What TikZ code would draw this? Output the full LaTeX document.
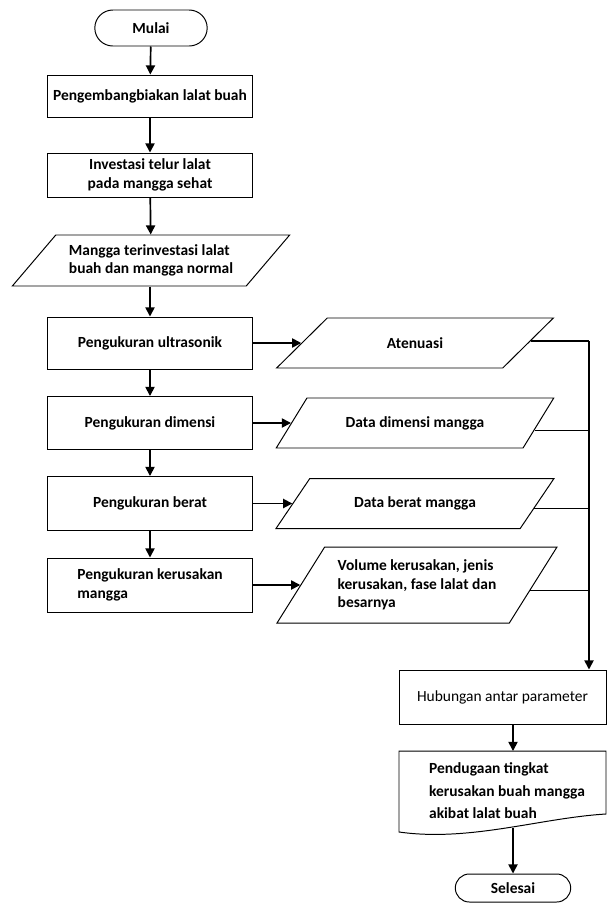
\documentclass[tikz,border=0pt]{standalone}
\usepackage{fontspec}
\setmainfont{Carlito}
\usetikzlibrary{shapes.geometric,shapes.misc,arrows.meta,calc}
\def\pxu{0.025cm}
\begin{document}
\begin{tikzpicture}[x=0.025cm,y=-0.025cm,
  base/.style={font=\fontsize{11}{13}\selectfont\bfseries, line width=0.7pt, align=center, inner sep=2pt},
  proc/.style={base, draw, rectangle, minimum width=205*\pxu},
  term/.style={base, draw, rounded rectangle, minimum height=36*\pxu},
  io/.style={base, draw, trapezium, trapezium stretches=true, trapezium left angle=43, trapezium right angle=137, minimum width=278*\pxu, minimum height=50*\pxu},
  arr/.style={line width=1.2pt, -{Triangle[length=6.5pt,width=6.5pt]}},
  conn/.style={line width=0.8pt}]
\useasboundingbox (0,0) rectangle (609,903);

\node[term, minimum width=118*\pxu] (start) at (151,28) {Mulai};
\node[proc, minimum height=42*\pxu] (b1) at (150,96) {Pengembangbiakan lalat buah};
\node[proc, minimum height=44*\pxu] (b2) at (150,175) {Investasi telur lalat\\pada mangga sehat};
\node[io, minimum height=51*\pxu, trapezium left angle=44, trapezium right angle=136, align=left] (p1) at (151,260.5) {Mangga terinvestasi lalat\\buah dan mangga normal};
\node[proc, minimum height=52*\pxu] (b3) at (150,343) {Pengukuran ultrasonik};
\node[proc, minimum height=53*\pxu] (b4) at (150,423) {Pengukuran dimensi};
\node[proc, minimum height=54*\pxu] (b5) at (150,503.5) {Pengukuran berat};
\node[proc, minimum height=54*\pxu, align=left] (b6) at (150,585) {Pengukuran kerusakan\\mangga};

\node[io] (r1) at (415,343) {Atenuasi};
\node[io] (r2) at (415,423) {Data dimensi mangga};
\node[io] (r3) at (415,503.5) {Data berat mangga};
\node[io, minimum width=280*\pxu, minimum height=76*\pxu, trapezium left angle=52.6, trapezium right angle=127.4, align=left] (r4) at (417,585) {Volume kerusakan, jenis\\kerusakan, fase lalat dan\\besarnya};

\node[proc, font=\fontsize{11}{13}\selectfont, minimum width=207*\pxu, minimum height=54*\pxu] (hub) at (502.5,697) {Hubungan antar parameter};

\draw[line width=0.7pt] (399,751) -- (606,751) -- (606,814) .. controls (540,818) and (470,842) .. (399,832) -- cycle;
\node[base, align=left, font=\fontsize{11}{16}\selectfont\bfseries] (doc) at (507,791) {Pendugaan tingkat\\kerusakan buah mangga\\akibat lalat buah};
\coordinate (dtop) at (513,751);
\coordinate (dbot) at (513,828);

\node[term, minimum width=121*\pxu, minimum height=28*\pxu] (end) at (513,888) {Selesai};

% left column arrows
\draw[arr] (start) -- (b1);
\draw[arr] (b1) -- (b2);
\draw[arr] (b2) -- (p1);
\draw[arr] (p1.south -| b3.north) -- (b3);
\draw[arr] (b3) -- (b4);
\draw[arr] (b4) -- (b5);
\draw[arr] (b5) -- (b6);

% to outputs
\draw[arr] (b3.east) -- (b3.east -| r1.left side);
\draw[arr] (b4.east) -- (b4.east -| r2.left side);
\draw[arr] (b5.east) -- (b5.east -| r3.left side);
\draw[arr] (b6.east) -- (b6.east -| r4.left side);

% collector
\coordinate (bus) at (589,342);
\coordinate (o1) at ($(r1.top right corner)!0.46!(r1.bottom right corner)$);
\coordinate (o2) at ($(r2.top right corner)!0.64!(r2.bottom right corner)$);
\coordinate (o3) at ($(r3.top right corner)!0.6!(r3.bottom right corner)$);
\coordinate (o4) at ($(r4.top right corner)!0.57!(r4.bottom right corner)$);
\draw[conn] (o1) -- (o1 -| bus);
\draw[conn] (o2) -- (o2 -| bus);
\draw[conn] (o3) -- (o3 -| bus);
\draw[conn] (o4) -- (o4 -| bus);
\draw[arr] (o1 -| bus) -- (hub.north -| bus);

\draw[arr] (hub.south -| dtop) -- (dtop);
\draw[arr] (dbot) -- (end);
\end{tikzpicture}
\end{document}
